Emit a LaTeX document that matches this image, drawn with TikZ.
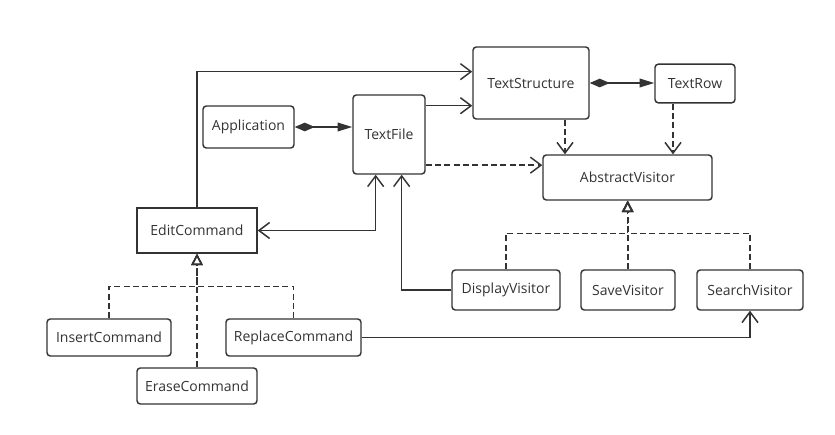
\documentclass[tikz,border=0pt]{standalone}
\usepackage{fontspec}
\setmainfont{Open Sans}
\usepackage{tikz}
\usetikzlibrary{arrows.meta}
\definecolor{umlgray}{RGB}{51,51,51}

\begin{document}
\begin{tikzpicture}[x=0.75pt,y=0.75pt,yscale=-1,xscale=1,
  cls/.style={draw=umlgray, line width=1.1pt, rounded corners=2.5pt, fill=white, text=umlgray,
    font=\fontsize{10.5}{12}\selectfont, inner sep=1pt},
  sharpcls/.style={cls, rounded corners=0pt},
  conn/.style={draw=umlgray, line width=1.1pt},
  assoc/.style={conn, -{Straight Barb[length=8pt,width=12pt]}},
  biassoc/.style={conn, {Straight Barb[length=8pt,width=12pt]}-{Straight Barb[length=8pt,width=12pt]}},
  depend/.style={assoc, dash pattern=on 4.5pt off 2.5pt},
  compose/.style={conn, {Diamond[length=15pt,width=6.5pt]}-{Triangle[length=11pt,width=6.5pt]}},
  realize/.style={conn, dash pattern=on 4.5pt off 2.5pt, -{Triangle[open,length=8.5pt,width=8.5pt]}}
]
%uncomment if require: \path (0,435); %set diagram left start at 0, and has height of 435
\useasboundingbox (0,0) rectangle (835,435);

%Shape: Rectangle
\node [cls, minimum width=87pt, minimum height=54pt] (TextStructure) at (531,83) {TextStructure};
%Shape: Rectangle
\node [cls, minimum width=60pt, minimum height=29pt] (TextRow) at (695,83.5) {TextRow};
%Shape: Rectangle
\node [cls, minimum width=126.75pt, minimum height=33.75pt] (AbstractVisitor) at (627.5,177.5) {AbstractVisitor};
%Shape: Rectangle
\node [cls, minimum width=68.25pt, minimum height=31.5pt] (Application) at (248.5,127) {Application};
%Shape: Rectangle
\node [cls, minimum width=54pt, minimum height=59.25pt] (TextFile) at (389,134.5) {TextFile};
%Shape: Rectangle
\node [sharpcls, minimum width=90pt, minimum height=33.75pt] (EditCommand) at (197,230.5) {EditCommand};
%Shape: Rectangle
\node [cls, minimum width=93pt, minimum height=27.75pt] (InsertCommand) at (109,337.5) {InsertCommand};
%Shape: Rectangle
\node [cls, minimum width=101.25pt, minimum height=27.75pt] (ReplaceCommand) at (293.5,337.5) {ReplaceCommand};
%Shape: Rectangle
\node [cls, minimum width=90pt, minimum height=27pt] (EraseCommand) at (197,386) {EraseCommand};
%Shape: Rectangle
\node [cls, minimum width=81pt, minimum height=30pt] (DisplayVisitor) at (506,290) {DisplayVisitor};
%Shape: Rectangle
\node [cls, minimum width=70.5pt, minimum height=30pt] (SaveVisitor) at (628,290) {SaveVisitor};
%Shape: Rectangle
\node [cls, minimum width=79.5pt, minimum height=30pt] (SearchVisitor) at (750,290) {SearchVisitor};

%Straight Lines
\draw [assoc] (EditCommand.north) |- ([yshift=-8.5pt]TextStructure.west);
%Straight Lines
\draw [assoc] ([yshift=-21.6pt]TextFile.east) coordinate (tfout) -- (tfout -| TextStructure.west);
%Straight Lines
\draw [compose] (Application.east) -- (Application.east -| TextFile.west);
%Straight Lines
\draw [depend] ([yshift=23pt]TextFile.east) coordinate (tfdep) -- (tfdep -| AbstractVisitor.west);
%Straight Lines
\draw [depend] ([xshift=25.5pt]TextStructure.south) coordinate (tsdep) -- (tsdep |- AbstractVisitor.north);
%Straight Lines
\draw [compose] (TextStructure.east) -- (TextStructure.east -| TextRow.west);
%Straight Lines
\draw [depend] ([xshift=-16.5pt]TextRow.south) coordinate (trdep) -- (trdep |- AbstractVisitor.north);
%Straight Lines
\draw [biassoc] (EditCommand.east) -| ([xshift=-10pt]TextFile.south);
%Straight Lines
\draw [assoc] (DisplayVisitor.west) -| ([xshift=9.5pt]TextFile.south);
%Straight Lines
\draw [assoc] (ReplaceCommand.east) -| (SearchVisitor.south);

%Straight Lines
\draw [realize] (DisplayVisitor.north) -- ++(0,-36) -| (AbstractVisitor.south);
\draw [realize] (SearchVisitor.north) -- ++(0,-36) -| (AbstractVisitor.south);
\draw [realize] (SaveVisitor.north) -- (SaveVisitor.north |- AbstractVisitor.south);
%Straight Lines
\draw [realize] (InsertCommand.north) -- ++(0,-32) -| (EditCommand.south);
\draw [realize] (ReplaceCommand.north) -- ++(0,-32) -| (EditCommand.south);
\draw [realize] (EraseCommand.north) -- (EditCommand.south);

\end{tikzpicture}
\end{document}
